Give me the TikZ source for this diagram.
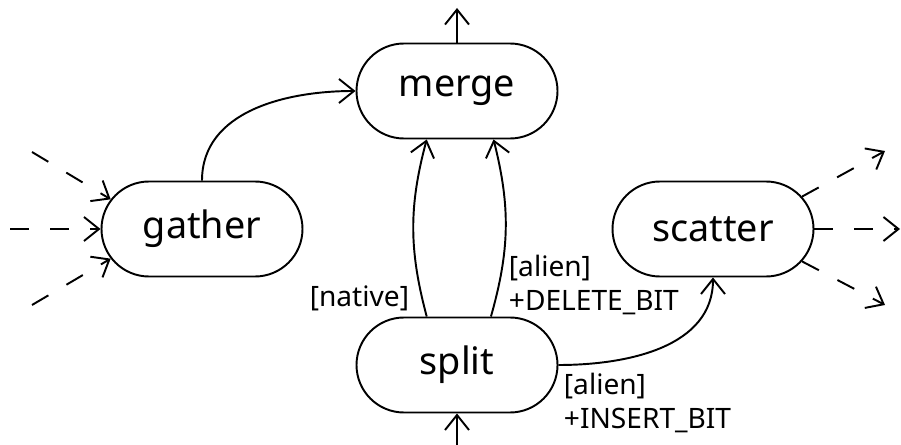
\documentclass[tikz,border=0pt]{standalone}
\usepackage{fontspec}
\setmainfont{Noto Sans}
\usetikzlibrary{arrows.meta,shapes.misc,calc}
\begin{document}
\begin{tikzpicture}[line width=1.1pt, line join=round, line cap=butt, >={Straight Barb[length=0.3cm,width=0.48cm]},
  state/.style={draw, rounded rectangle, minimum width=4.02cm, minimum height=1.9cm, inner sep=0pt, font=\fontsize{21.5}{26}\selectfont},
  lbl/.style={align=left, inner sep=0pt, font=\fontsize{16}{19.5}\selectfont},
  flow/.style={dash pattern=on 0.38cm off 0.42cm}]
% Khung hình
\useasboundingbox (0,0) rectangle (18.02,-8.9);
% Các trạng thái
\node[state] (merge) at (9.14,-1.82) {merge};
\node[state] (gather) at (4.04,-4.58) {gather};
\node[state] (scatter) at (14.26,-4.58) {scatter};
\node[state] (split) at (9.14,-7.30) {split};
% Điểm đầu/cuối tự do
\coordinate (top) at (9.14,-0.16);
\coordinate (bot) at (9.14,-8.9);
\coordinate (gin1) at (0.64,-3.04);
\coordinate (gin2) at (0.2,-4.58);
\coordinate (gin3) at (0.64,-6.1);
\coordinate (sout1) at (17.7,-3.02);
\coordinate (sout2) at (18.0,-4.58);
\coordinate (sout3) at (17.7,-6.1);
% Các mũi tên
\draw[->] (merge.north) -- (top);
\draw[->] (bot) -- (split.south);
\draw[->] (gather.north) to[out=90,in=180] (merge.west);
\draw[->] (split.122) to[bend left=15] (merge.238);
\draw[->] (split.55) to[bend right=15] (merge.307);
\draw[->] (split.east) to[out=0,in=-90] (scatter.south);
% Luồng vào / ra (nét đứt)
\draw[->, flow] (gin1) -- (gather.162);
\draw[->, flow] (gin2) -- (gather.west);
\draw[->, flow] (gin3) -- (gather.198);
\draw[->, flow] (scatter.20) -- (sout1);
\draw[->, flow] (scatter.east) -- (sout2);
\draw[->, flow] (scatter.-20) -- (sout3);
% Nhãn
\node[lbl, anchor=east] (native) at (8.2,-5.96) {[native]};
\node[lbl, anchor=north west] (alienA) at (10.16,-5.08) {[alien]\\+DELETE\_BIT};
\node[lbl, anchor=north west] (alienB) at (11.26,-7.44) {[alien]\\+INSERT\_BIT};
\end{tikzpicture}
\end{document}
